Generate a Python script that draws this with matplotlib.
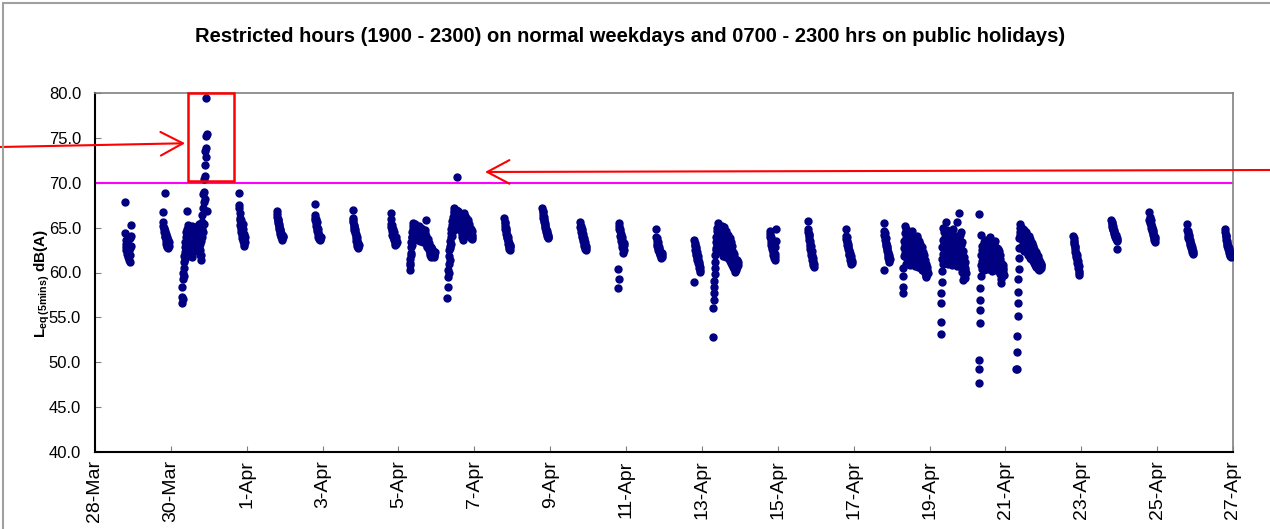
import datetime
import numpy as np
import matplotlib
matplotlib.use('Agg')
import matplotlib.pyplot as plt
import matplotlib.dates as mdates
from matplotlib.patches import Rectangle

plt.rcParams['font.family'] = ['Liberation Sans', 'DejaVu Sans']
plt.rcParams['mathtext.fontset'] = 'custom'
plt.rcParams['mathtext.rm'] = 'Liberation Sans'
plt.rcParams['mathtext.bf'] = 'Liberation Sans:bold'

# Leq(5mins) readings, dB(A), 10-min steps
# evenings start 19:00, public holidays start 07:00
mar28 = [67.9, 64.4, 63.6, 63.2, 62.8, 62.5, 62.1, 62.9, 63.4, 62.6, 62.0, 61.7, 62.3, 63.1, 62.5, 61.9, 61.4, 61.2, 62.0, 62.7, 63.8, 65.3, 64.1, 63.0]
mar29 = [66.7, 65.6, 65.2, 64.8, 65.0, 64.5, 64.1, 68.9, 64.6, 64.0, 63.8, 64.3, 63.5, 63.2, 63.9, 63.4, 63.0, 62.8, 63.3, 62.7, 63.6, 63.1, 62.9, 63.4]
mar30 = [56.6, 57.3, 58.4, 57.0, 59.3, 60.0, 59.6, 61.2, 60.5, 61.8, 62.3, 61.5, 62.8, 63.4, 62.6, 63.9, 64.5, 63.2,
         64.0, 63.5, 66.8, 64.8, 65.3, 63.8, 62.9, 64.2, 65.0, 63.6, 62.7, 64.6, 63.3, 62.1, 62.5, 64.1, 63.0, 64.9,
         63.7, 61.7, 62.8, 64.4, 65.2, 63.5, 62.4, 63.9, 64.7, 63.1, 62.6, 64.3, 65.1, 63.4, 62.9, 64.0, 63.3, 62.5,
         63.8, 64.6, 62.7, 63.5, 65.0, 64.2, 62.8, 63.6, 64.8, 63.0, 62.3, 64.1, 65.4, 63.7, 62.5, 61.9, 63.2, 64.5,
         62.0, 61.4, 63.5, 64.8, 65.6, 63.9, 66.4, 67.2, 64.5, 68.8, 65.4, 67.9, 69.0, 70.4, 68.2, 72.0, 70.7, 73.5,
         75.2, 73.9, 79.4, 72.9, 75.4, 66.9]
mar31 = [68.9, 67.5, 67.2, 66.6, 66.1, 65.8, 65.3, 65.9, 64.8, 64.5, 65.1, 64.2, 63.8, 64.6, 65.4, 64.9, 64.0, 63.5, 63.2, 64.3, 63.7, 62.9, 63.4, 63.9]
apr01 = [66.8, 66.5, 66.2, 65.9, 65.7, 66.0, 65.5, 65.2, 65.4, 64.9, 65.1, 64.7, 64.5, 64.8, 64.3, 64.1, 64.4, 63.9, 64.2, 63.8, 64.0, 63.6, 63.9, 64.1]
apr02 = [67.6, 66.4, 66.1, 65.8, 66.0, 65.5, 65.2, 65.6, 64.9, 65.1, 64.6, 64.8, 64.3, 64.5, 64.0, 64.2, 63.9, 63.7, 64.1, 63.6, 63.8, 64.0, 63.7, 63.9]
apr03 = [67.0, 65.9, 65.6, 66.1, 65.3, 65.0, 64.7, 65.2, 64.9, 64.4, 64.6, 64.1, 63.8, 64.3, 63.5, 63.9, 63.2, 63.6, 62.9, 63.3, 62.7, 63.0, 62.8, 63.1]
apr04 = [66.6, 65.4, 66.0, 65.1, 64.8, 65.3, 64.6, 64.2, 64.9, 64.4, 63.9, 64.1, 63.7, 64.5, 63.6, 63.3, 63.8, 63.1, 63.5, 63.4, 63.9, 63.2, 63.6, 63.4]
apr05 = [60.3, 60.8, 61.5, 61.1, 62.2, 62.8, 62.0, 63.4, 63.9, 63.1, 64.5, 64.0, 64.8, 65.2, 64.3, 65.5, 64.9, 64.1,
         65.3, 64.6, 63.8, 64.9, 65.4, 64.2, 63.7, 64.8, 65.1, 64.4, 63.9, 64.6, 65.0, 64.1, 63.6, 64.7, 64.3, 63.8,
         64.5, 65.2, 64.0, 63.5, 64.4, 64.9, 63.8, 64.2, 65.0, 64.6, 63.9, 64.3, 64.8, 63.7, 64.1, 64.6, 63.4, 64.0,
         64.5, 63.9, 64.2, 64.7, 63.6, 64.0, 64.4, 63.3, 63.8, 64.1, 65.8, 63.5, 63.0, 63.6, 62.8, 63.2, 63.7, 62.9,
         63.1, 62.5, 62.9, 63.3, 62.2, 62.7, 61.9, 62.4, 62.8, 62.1, 61.7, 62.5, 62.0, 62.3, 61.8, 62.6, 62.1, 61.9,
         62.4, 62.0, 61.7, 62.2, 61.9, 62.3]
apr06 = [57.2, 58.4, 59.5, 60.3, 59.9, 61.0, 61.8, 62.5, 61.4, 62.9, 63.5, 62.7, 63.9, 64.4, 63.2, 64.8, 65.3, 64.1,
         65.0, 65.7, 64.6, 66.2, 65.4, 66.6, 65.9, 66.9, 67.2, 66.3, 65.8, 66.5, 66.7, 67.0, 66.1, 65.6, 66.4, 66.8,
         66.2, 65.7, 70.6, 66.9, 65.3, 66.0, 66.5, 64.9, 65.6, 66.3, 65.1, 64.7, 65.8, 66.1, 65.4, 64.8, 65.5, 66.0,
         65.2, 64.6, 63.9, 64.3, 65.0, 63.6, 64.8, 65.5, 66.2, 65.7, 66.6, 65.9, 66.3, 65.4, 64.9, 65.8, 66.1, 65.3,
         64.7, 65.6, 66.0, 65.2, 64.5, 65.1, 65.8, 64.9, 64.2, 64.8, 65.4, 64.6, 64.0, 64.5, 65.0, 64.3, 63.8, 64.4,
         64.9, 64.1, 63.7, 64.2, 64.6, 63.9]
apr07 = [66.1, 65.6, 65.2, 65.5, 64.9, 64.6, 65.0, 64.3, 64.7, 64.0, 63.8, 64.2, 63.5, 63.9, 63.2, 63.6, 63.0, 62.8, 63.3, 62.6, 62.9, 62.5, 62.8, 63.1]
apr08 = [67.2, 66.9, 66.4, 66.7, 66.1, 65.8, 66.2, 65.6, 65.9, 65.3, 65.5, 65.0, 65.2, 64.7, 64.9, 64.5, 64.3, 64.6, 64.1, 64.4, 63.9, 64.2, 63.8, 64.0]
apr09 = [65.6, 65.1, 64.8, 65.2, 64.5, 64.9, 64.2, 64.6, 63.9, 64.3, 63.7, 64.0, 63.5, 63.8, 63.2, 63.6, 63.0, 63.4, 62.8, 63.1, 62.6, 62.9, 62.5, 62.7]
apr10 = [60.4, 58.3, 59.3, 65.5, 64.9, 65.2, 64.6, 64.1, 64.8, 64.3, 63.8, 64.0, 63.5, 63.9, 63.2, 62.8, 63.6, 63.0, 62.6, 62.2, 62.9, 63.3, 62.5, 63.1]
apr11 = [64.8, 63.9, 63.5, 63.8, 63.2, 62.9, 63.4, 62.7, 63.1, 62.5, 62.8, 62.3, 62.6, 62.1, 62.4, 61.9, 62.2, 61.8, 62.0, 61.6, 61.9, 62.2, 61.7, 62.0]
apr12 = [58.9, 63.6, 63.3, 62.9, 63.1, 62.5, 62.8, 62.2, 62.6, 61.9, 62.3, 61.6, 62.0, 61.4, 61.8, 61.1, 61.5, 60.8, 61.2, 60.5, 60.9, 60.3, 60.1, 60.6]
apr13 = [52.8, 56.0, 56.9, 57.7, 58.4, 59.1, 59.8, 60.5, 61.2, 62.0, 62.7, 63.4, 62.5, 63.9, 64.6, 63.2, 64.1, 65.0,
         65.5, 64.4, 63.6, 64.8, 63.1, 62.6, 64.2, 63.7, 62.9, 64.5, 63.4, 62.3, 63.8, 64.9, 62.8, 63.5, 65.2, 64.0,
         63.3, 62.4, 61.8, 63.0, 64.3, 65.1, 63.6, 62.7, 64.0, 63.2, 62.1, 63.7, 64.6, 62.9, 61.7, 62.5, 63.9, 63.1,
         62.4, 63.5, 64.2, 62.8, 61.9, 63.3, 62.6, 61.5, 63.0, 63.8, 62.2, 61.3, 62.7, 63.4, 61.8, 62.5, 61.1, 62.0,
         62.9, 61.6, 60.8, 62.3, 61.4, 60.6, 62.1, 61.2, 60.4, 61.7, 60.9, 60.1, 61.5, 60.7, 61.3, 60.5, 61.0, 60.3,
         60.9, 61.4, 60.6, 61.1, 60.8, 61.2]
apr14 = [64.6, 64.3, 64.0, 63.7, 63.9, 63.4, 63.1, 62.8, 63.2, 62.6, 62.9, 62.3, 62.0, 62.5, 61.8, 62.2, 61.6, 61.9, 61.4, 61.7, 62.1, 62.8, 63.5, 64.9]
apr15 = [64.8, 64.5, 65.7, 64.2, 63.9, 64.3, 63.6, 63.2, 63.5, 62.9, 62.6, 62.9, 62.3, 62.0, 62.4, 61.7, 61.9, 61.4, 61.6, 61.1, 61.3, 60.8, 61.0, 60.6]
apr16 = [64.8, 64.1, 63.7, 64.0, 63.4, 63.1, 63.5, 62.8, 63.2, 62.6, 62.9, 62.4, 62.1, 62.5, 61.9, 62.2, 61.7, 61.4, 61.8, 61.2, 61.5, 61.0, 61.3, 61.1]
apr17 = [60.3, 65.5, 64.6, 64.2, 63.9, 64.4, 63.6, 63.2, 63.8, 62.9, 63.3, 62.6, 63.0, 62.4, 62.7, 62.1, 61.8, 62.3, 61.6, 61.9, 61.4, 61.7, 61.2, 61.5]
apr18 = [57.7, 58.4, 59.6, 60.5, 61.8, 62.7, 63.5, 65.2, 64.4, 63.1, 62.2, 61.0, 63.8, 64.9, 62.6, 61.5, 63.3, 64.1,
         62.4, 61.3, 63.6, 64.6, 62.9, 61.7, 63.0, 62.1, 60.8, 62.5, 63.9, 64.3, 62.7, 61.4, 63.2, 62.0, 60.9, 62.8,
         63.7, 64.6, 62.3, 61.1, 63.4, 62.6, 61.6, 63.1, 64.0, 62.4, 60.7, 62.9, 63.6, 61.9, 62.5, 63.3, 61.2, 62.0,
         63.8, 64.1, 62.7, 61.5, 63.0, 62.2, 60.6, 61.8, 63.5, 62.9, 61.3, 62.4, 63.2, 61.7, 60.9, 62.6, 61.9, 60.5,
         62.8, 61.6, 60.3, 61.9, 61.2, 62.3, 60.8, 61.5, 62.0, 60.6, 61.1, 59.9, 60.7, 61.4, 60.2, 59.6, 60.9, 60.4,
         59.5, 60.1, 60.6, 59.8, 60.3, 59.9]
apr19 = [53.2, 54.5, 56.6, 57.7, 58.9, 60.2, 61.5, 62.8, 65.0, 63.6, 62.1, 61.0, 63.3, 64.5, 62.6, 61.4, 63.9, 62.3,
         61.2, 63.0, 64.2, 65.6, 62.7, 61.6, 63.5, 64.7, 62.0, 60.9, 63.2, 64.0, 62.5, 61.3, 62.9, 63.8, 61.8, 62.4,
         63.6, 61.1, 62.8, 63.4, 64.3, 62.2, 61.5, 63.1, 62.6, 60.8, 62.0, 63.7, 64.8, 62.9, 61.7, 63.3, 64.0, 62.4,
         61.2, 63.0, 62.4, 64.1, 62.7, 61.4, 63.5, 62.1, 60.7, 61.8, 65.6, 62.5, 61.0, 62.8, 63.9, 61.6, 66.6, 62.9,
         64.2, 63.5, 61.3, 62.7, 64.5, 60.6, 63.1, 62.0, 60.5, 61.9, 63.4, 60.1, 59.2, 62.4, 61.0, 59.6, 60.8, 61.7,
         59.9, 60.5, 61.2, 59.4, 60.3, 60.0]
apr20 = [66.5, 47.7, 49.3, 50.2, 54.4, 55.8, 56.9, 58.3, 59.6, 60.8, 61.9, 64.2, 62.5, 61.3, 60.4, 62.9, 61.7, 60.6,
         62.2, 63.4, 61.5, 60.3, 62.7, 61.8, 60.9, 62.4, 63.6, 61.2, 60.5, 62.0, 61.4, 63.1, 62.6, 60.7, 61.9, 62.8,
         61.1, 60.4, 62.3, 63.3, 61.6, 60.8, 62.5, 61.3, 63.9, 62.1, 60.6, 61.7, 62.9, 61.0, 60.2, 62.4, 61.5, 63.0,
         62.2, 60.9, 61.8, 63.2, 61.4, 60.5, 62.6, 61.9, 60.7, 62.0, 63.5, 61.6, 60.3, 62.3, 61.2, 60.8, 62.7, 61.5,
         60.6, 62.1, 62.6, 61.3, 60.2, 61.8, 62.4, 60.9, 59.8, 61.5, 62.0, 60.4, 59.3, 61.1, 60.7, 58.8, 60.2, 61.0,
         59.6, 60.5, 59.9, 60.8, 60.3, 59.7]
apr21 = [49.2, 49.3, 51.1, 52.9, 55.2, 56.6, 57.8, 59.3, 60.4, 61.6, 62.7, 63.8, 64.5, 65.0, 64.2, 65.4, 64.8, 63.9,
         64.6, 65.1, 63.7, 64.3, 62.9, 64.8, 63.5, 62.6, 64.1, 63.2, 64.7, 62.4, 63.6, 64.4, 62.8, 63.3, 64.0, 62.5,
         63.9, 64.5, 62.7, 63.4, 64.2, 62.3, 63.1, 63.8, 62.0, 63.5, 64.1, 62.6, 61.9, 63.2, 63.7, 62.2, 61.6, 62.9,
         63.4, 62.1, 61.5, 62.8, 63.3, 61.8, 62.5, 63.0, 61.3, 62.2, 62.7, 61.1, 61.9, 62.6, 61.4, 60.8, 62.0, 61.6,
         60.9, 61.7, 62.3, 61.2, 60.6, 61.5, 62.0, 60.7, 61.3, 60.4, 61.8, 61.0, 60.5, 61.4, 60.3, 60.9, 61.2, 60.6,
         61.1, 60.4, 60.8, 61.0, 60.5, 60.7]
apr22 = [64.1, 63.8, 63.5, 63.2, 63.4, 62.9, 62.6, 62.8, 62.3, 62.0, 62.2, 61.7, 61.9, 61.4, 61.6, 61.1, 61.3, 60.8, 61.0, 60.5, 60.7, 60.2, 60.0, 59.7]
apr23 = [65.8, 65.6, 65.3, 65.5, 65.1, 64.9, 65.2, 64.7, 64.9, 64.5, 64.7, 64.3, 64.5, 64.1, 64.3, 63.9, 64.2, 63.8, 64.0, 63.7, 63.5, 62.6, 63.6, 63.8]
apr24 = [66.7, 65.9, 66.2, 65.7, 65.5, 65.8, 65.3, 65.0, 65.4, 64.8, 65.1, 64.6, 64.9, 64.4, 64.7, 64.2, 64.5, 64.0, 63.8, 64.1, 63.6, 63.9, 63.4, 63.7]
apr25 = [65.4, 64.7, 64.4, 64.6, 64.1, 63.8, 64.2, 63.6, 63.9, 63.3, 63.6, 63.1, 63.4, 62.9, 63.2, 62.7, 63.0, 62.5, 62.8, 62.3, 62.6, 62.1, 62.4, 62.2]
apr26 = [64.8, 64.5, 64.2, 63.9, 64.1, 63.6, 63.3, 63.5, 63.0, 63.2, 62.8, 62.6, 62.9, 62.4, 62.7, 62.2, 62.5, 62.0, 62.3, 61.8, 62.1, 61.7, 61.9, 62.0]

days = [mar28, mar29, mar30, mar31, apr01, apr02, apr03, apr04, apr05, apr06,
        apr07, apr08, apr09, apr10, apr11, apr12, apr13, apr14, apr15, apr16,
        apr17, apr18, apr19, apr20, apr21, apr22, apr23, apr24, apr25, apr26]
holidays = [2, 8, 9, 16, 21, 22, 23, 24]
limit = 70.0

start = datetime.datetime(2018, 3, 28)
end = datetime.datetime(2018, 4, 27)

xs, ys = [], []
for i, vals in enumerate(days):
    h0 = 7 if i in holidays else 19
    t0 = start + datetime.timedelta(days=i, hours=h0)
    for k, v in enumerate(vals):
        xs.append(t0 + datetime.timedelta(minutes=10 * k))
        ys.append(v)
xs = mdates.date2num(xs)

fig = plt.figure(figsize=(12.7, 5.29), dpi=100)
ax = fig.add_axes([95 / 1270, 1 - 452 / 529, (1233 - 95) / 1270, (452 - 93) / 529])

ax.plot(xs, ys, 'o', color='#000080', ms=5.0, mec='#000080', zorder=3)
ax.axhline(limit, color='#FF00FF', lw=1.5, zorder=2)

ax.set_xlim(mdates.date2num(start), mdates.date2num(end))
ax.set_ylim(40, 80)
ax.set_yticks(np.arange(40, 80.1, 5))
ax.yaxis.set_major_formatter(plt.FuncFormatter(lambda v, p: '%.1f' % v))
ax.xaxis.set_major_locator(mdates.DayLocator(interval=2))
ax.xaxis.set_major_formatter(plt.FuncFormatter(
    lambda v, p: '%d-%s' % (mdates.num2date(v).day, mdates.num2date(v).strftime('%b'))))
ax.tick_params(axis='both', direction='in', length=4, color='#808080')
ax.tick_params(axis='x', rotation=90, pad=6, labelsize=14)
ax.tick_params(axis='y', pad=10, labelsize=12)

for s in ['left', 'bottom']:
    ax.spines[s].set_color('black')
    ax.spines[s].set_linewidth(1.5)
for s in ['top', 'right']:
    ax.spines[s].set_color('#808080')
    ax.spines[s].set_linewidth(1.2)

ax.set_ylabel(r'$\mathbf{L_{eq\,(5mins)}}$ dB(A)', fontsize=11, fontweight='bold', labelpad=-2)
ax.yaxis.label.set_y(0.47)
fig.text(630 / 1270, 1 - 37 / 529,
         'Restricted hours (1900 - 2300) on normal weekdays and 0700 - 2300 hrs on public holidays)',
         ha='center', va='center', fontsize=14.5, fontweight='bold')

# highlight box + arrows
bx0 = mdates.date2num(datetime.datetime(2018, 3, 30, 10, 50))
bx1 = mdates.date2num(datetime.datetime(2018, 3, 31, 16, 0))
ax.add_patch(Rectangle((bx0, 70.2), bx1 - bx0, 9.8, fill=False, edgecolor='red',
                       lw=1.8, clip_on=False, zorder=4))
arrow = dict(arrowstyle='->,head_length=16,head_width=8.5', color='red', lw=1.5,
             shrinkA=0, shrinkB=0, mutation_scale=1)
ax.annotate('', xy=(mdates.date2num(datetime.datetime(2018, 3, 30, 9, 0)), 74.4),
            xytext=(0, 529 - 147), textcoords='figure pixels', arrowprops=arrow,
            annotation_clip=False)
ax.annotate('', xy=(mdates.date2num(datetime.datetime(2018, 4, 7, 6, 45)), 71.2),
            xytext=(1270, 529 - 170), textcoords='figure pixels', arrowprops=arrow,
            annotation_clip=False)

fig.patches.append(Rectangle((3 / 1270, -0.1), 1.2, 1.1 - 3 / 529, transform=fig.transFigure,
                             fill=False, edgecolor='#a0a0a0', lw=1.5))

fig.savefig('out.png', dpi=100)
